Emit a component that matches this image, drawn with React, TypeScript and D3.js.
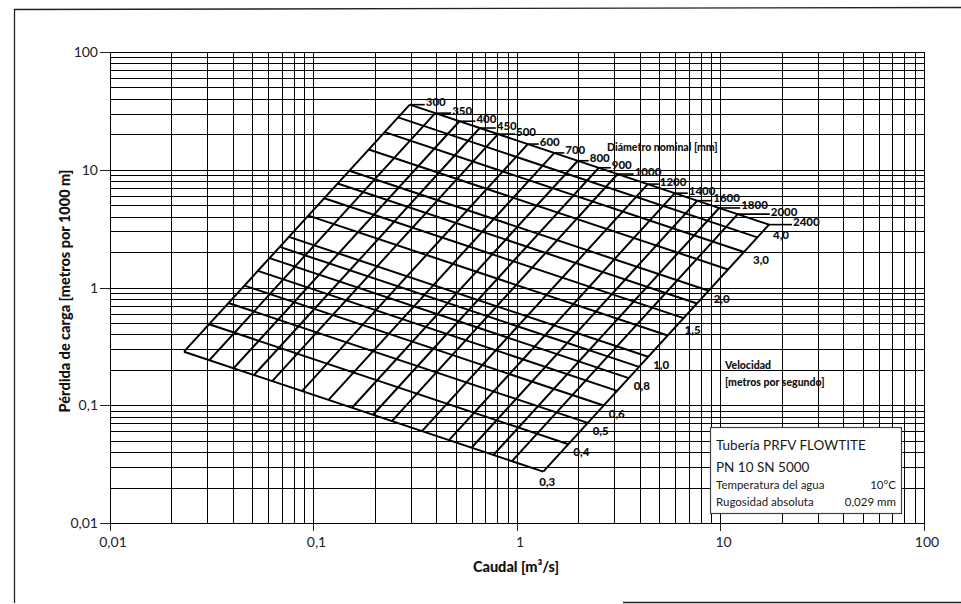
import React, { useRef, useEffect } from 'react';
import * as d3 from 'd3';

// diámetros nominales [mm]
const diameters = [300, 350, 400, 450, 500, 600, 700, 800, 900, 1000, 1200, 1400, 1600, 1800, 2000, 2400];
// caudal [m3/s] y pérdida [m/1000 m] donde cada diámetro corta la línea de 0,3 m/s
const diamQ = [0.0231, 0.0308, 0.0405, 0.0510, 0.0627, 0.0878, 0.1185, 0.1546, 0.1961, 0.2428, 0.3414, 0.4634, 0.5976, 0.7656, 0.945, 1.346];
const diamJ = [0.285, 0.2415, 0.2062, 0.1805, 0.1603, 0.1319, 0.111, 0.0952, 0.083, 0.0734, 0.0603, 0.0505, 0.0436, 0.0378, 0.0335, 0.0273];

// velocidades [m/s]
const velocities = [0.3, 0.4, 0.5, 0.6, 0.7, 0.8, 0.9, 1.0, 1.25, 1.5, 1.75, 2.0, 2.5, 3.0, 3.5, 4.0];
// caudal y pérdida donde cada velocidad corta la línea de DN 300
const velQ = [0.0231, 0.0307, 0.0382, 0.0458, 0.0533, 0.0608, 0.0683, 0.0757, 0.0944, 0.113, 0.1315, 0.1501, 0.1869, 0.2239, 0.2605, 0.2972];
const velJ = [0.285, 0.4875, 0.739, 1.038, 1.384, 1.776, 2.212, 2.692, 4.081, 5.734, 7.64, 9.8, 14.86, 20.88, 27.83, 35.7];
const labeledVelocities = [0.3, 0.4, 0.5, 0.6, 0.8, 1.0, 1.5, 2.0, 3.0, 4.0];

const tickValues = [0.01, 0.1, 1, 10, 100];
const tickLabels = ['0,01', '0,1', '1', '10', '100'];

// desplazamiento de las etiquetas de diámetro (px, a la derecha del nudo)
const diamLabelDx = [16, 17, 17, 17, 18, 12, 11, 12, 13, 17, 12, 14, 16, 22, 33, 24];
const velLabelOffset = { 0.3: [4, 14], 1.5: [9, 16], 4.0: [12, 14], 3.0: [17, 12] };

const FONT = 'Lato, "Noto Sans", sans-serif';

const App = () => {
  const svgRef = useRef(null);
  const width = 961;
  const height = 604;

  useEffect(() => {
    const svg = d3.select(svgRef.current).attr('width', width).attr('height', height);
    svg.selectAll('*').remove();

    const x = d3.scaleLog().domain([0.01, 100]).range([110, 924]);
    const y = d3.scaleLog().domain([0.01, 100]).range([523, 52]);

    // marco exterior
    svg.append('path')
      .attr('d', 'M14.5,603 L14.5,9.5 L961,7.5 M623,602.5 L961,602.5')
      .attr('fill', 'none').attr('stroke', '#222').attr('stroke-width', 1.3);

    const grid = svg.append('g').attr('shape-rendering', 'crispEdges');

    const gx = x.ticks();
    const gy = y.ticks();

    grid.selectAll('.vx').data(gx).enter().append('line')
      .attr('x1', d => Math.round(x(d)) + 0.5).attr('x2', d => Math.round(x(d)) + 0.5)
      .attr('y1', y(100)).attr('y2', y(0.01))
      .attr('stroke', '#000').attr('stroke-width', 1);

    grid.selectAll('.hy').data(gy).enter().append('line')
      .attr('y1', d => Math.round(y(d)) + 0.5).attr('y2', d => Math.round(y(d)) + 0.5)
      .attr('x1', x(0.01)).attr('x2', x(100))
      .attr('stroke', '#000').attr('stroke-width', 1);

    // marcas de las décadas
    grid.selectAll('.tx').data(tickValues).enter().append('line')
      .attr('x1', d => Math.round(x(d)) + 0.5).attr('x2', d => Math.round(x(d)) + 0.5)
      .attr('y1', y(0.01)).attr('y2', y(0.01) + 8)
      .attr('stroke', '#222').attr('stroke-width', 1);
    grid.selectAll('.ty').data(tickValues).enter().append('line')
      .attr('y1', d => Math.round(y(d)) + 0.5).attr('y2', d => Math.round(y(d)) + 0.5)
      .attr('x1', x(0.01) - 10).attr('x2', x(0.01))
      .attr('stroke', '#222').attr('stroke-width', 1);

    svg.selectAll('.lx').data(tickValues).enter().append('text')
      .attr('x', d => x(d) + 3).attr('y', y(0.01) + 24)
      .attr('text-anchor', 'middle')
      .attr('font-family', FONT).attr('font-size', 14).attr('fill', '#222')
      .text((d, i) => tickLabels[i]);

    svg.selectAll('.ly').data(tickValues).enter().append('text')
      .attr('x', x(0.01) - 12).attr('y', d => y(d) + 5)
      .attr('text-anchor', 'end')
      .attr('font-family', FONT).attr('font-size', 14).attr('fill', '#222')
      .text((d, i) => tickLabels[i]);

    // títulos de los ejes
    svg.append('text')
      .attr('x', 516).attr('y', 572)
      .attr('text-anchor', 'middle')
      .attr('font-family', FONT).attr('font-size', 14.5).attr('font-weight', 900).attr('fill', '#111')
      .text('Caudal [m³/s]');

    svg.append('text')
      .attr('transform', 'translate(70, 291) rotate(-90)')
      .attr('text-anchor', 'middle')
      .attr('font-family', FONT).attr('font-size', 14.5).attr('font-weight', 900).attr('fill', '#111')
      .text('Pérdida de carga [metros por 1000 m]');

    // nomograma: nudo (diámetro i, velocidad j)
    const node = (i, j) => [
      x(diamQ[i] * velQ[j] / velQ[0]),
      y(diamJ[i] * velJ[j] / velJ[0])
    ];
    const last = velocities.length - 1;
    const lastD = diameters.length - 1;

    const nomo = svg.append('g');

    nomo.selectAll('.dline').data(diameters).enter().append('line')
      .attr('x1', (d, i) => node(i, 0)[0]).attr('y1', (d, i) => node(i, 0)[1])
      .attr('x2', (d, i) => node(i, last)[0]).attr('y2', (d, i) => node(i, last)[1])
      .attr('stroke', '#000').attr('stroke-width', 2);

    nomo.selectAll('.vline').data(velocities).enter().append('line')
      .attr('x1', (d, j) => node(0, j)[0]).attr('y1', (d, j) => node(0, j)[1])
      .attr('x2', (d, j) => node(lastD, j)[0]).attr('y2', (d, j) => node(lastD, j)[1])
      .attr('stroke', '#000').attr('stroke-width', 2);

    // etiquetas de diámetro
    diameters.forEach((d, i) => {
      const [nx, ny] = node(i, last);
      const dx = diamLabelDx[i];
      nomo.append('line')
        .attr('x1', nx).attr('x2', nx + dx - 1)
        .attr('y1', ny).attr('y2', ny)
        .attr('stroke', '#000').attr('stroke-width', 1.6);
      nomo.append('text')
        .attr('x', nx + dx).attr('y', ny + 1.5)
        .attr('font-family', FONT).attr('font-size', 11.5).attr('font-weight', 900).attr('fill', '#111')
        .text(d);
    });

    nomo.append('text')
      .attr('x', 607).attr('y', 151)
      .attr('font-family', FONT).attr('font-size', 10.5).attr('font-weight', 900).attr('fill', '#111')
      .text('Diámetro nominal [mm]');

    // etiquetas de velocidad
    labeledVelocities.forEach(v => {
      const j = velocities.indexOf(v);
      const [nx, ny] = node(lastD, j);
      const off = velLabelOffset[v] || [13, 12];
      nomo.append('text')
        .attr('x', nx + off[0]).attr('y', ny + off[1])
        .attr('text-anchor', 'middle')
        .attr('font-family', FONT).attr('font-size', 11.5).attr('font-weight', 900).attr('fill', '#111')
        .text(v.toFixed(1).replace('.', ','));
    });

    nomo.append('text')
      .attr('x', 725).attr('y', 369)
      .attr('font-family', FONT).attr('font-size', 10.5).attr('font-weight', 900).attr('fill', '#111')
      .text('Velocidad');
    nomo.append('text')
      .attr('x', 725).attr('y', 386)
      .attr('font-family', FONT).attr('font-size', 10.5).attr('font-weight', 900).attr('fill', '#111')
      .text('[metros por segundo]');

    // cuadro de datos
    const box = svg.append('g');
    box.append('rect')
      .attr('x', 710.5).attr('y', 427.5).attr('width', 191).attr('height', 86)
      .attr('fill', '#fff').attr('stroke', '#444').attr('stroke-width', 1.2);
    box.append('text').attr('x', 716).attr('y', 450)
      .attr('font-family', FONT).attr('font-size', 13.5).attr('fill', '#1a1a1a')
      .text('Tubería PRFV FLOWTITE');
    box.append('text').attr('x', 716).attr('y', 472)
      .attr('font-family', FONT).attr('font-size', 13.5).attr('fill', '#1a1a1a')
      .text('PN 10 SN 5000');
    box.append('text').attr('x', 716).attr('y', 489)
      .attr('font-family', FONT).attr('font-size', 11.5).attr('fill', '#1a1a1a')
      .text('Temperatura del agua');
    box.append('text').attr('x', 896).attr('y', 489).attr('text-anchor', 'end')
      .attr('font-family', FONT).attr('font-size', 11.5).attr('fill', '#1a1a1a')
      .text('10°C');
    box.append('text').attr('x', 716).attr('y', 506)
      .attr('font-family', FONT).attr('font-size', 11.5).attr('fill', '#1a1a1a')
      .text('Rugosidad absoluta');
    box.append('text').attr('x', 896).attr('y', 506).attr('text-anchor', 'end')
      .attr('font-family', FONT).attr('font-size', 11.5).attr('fill', '#1a1a1a')
      .text('0,029 mm');
  }, []);

  return (
    <svg ref={svgRef} style={{ position: 'absolute', left: 0, top: 0, display: 'block', background: '#fff' }}></svg>
  );
};

export default App;
